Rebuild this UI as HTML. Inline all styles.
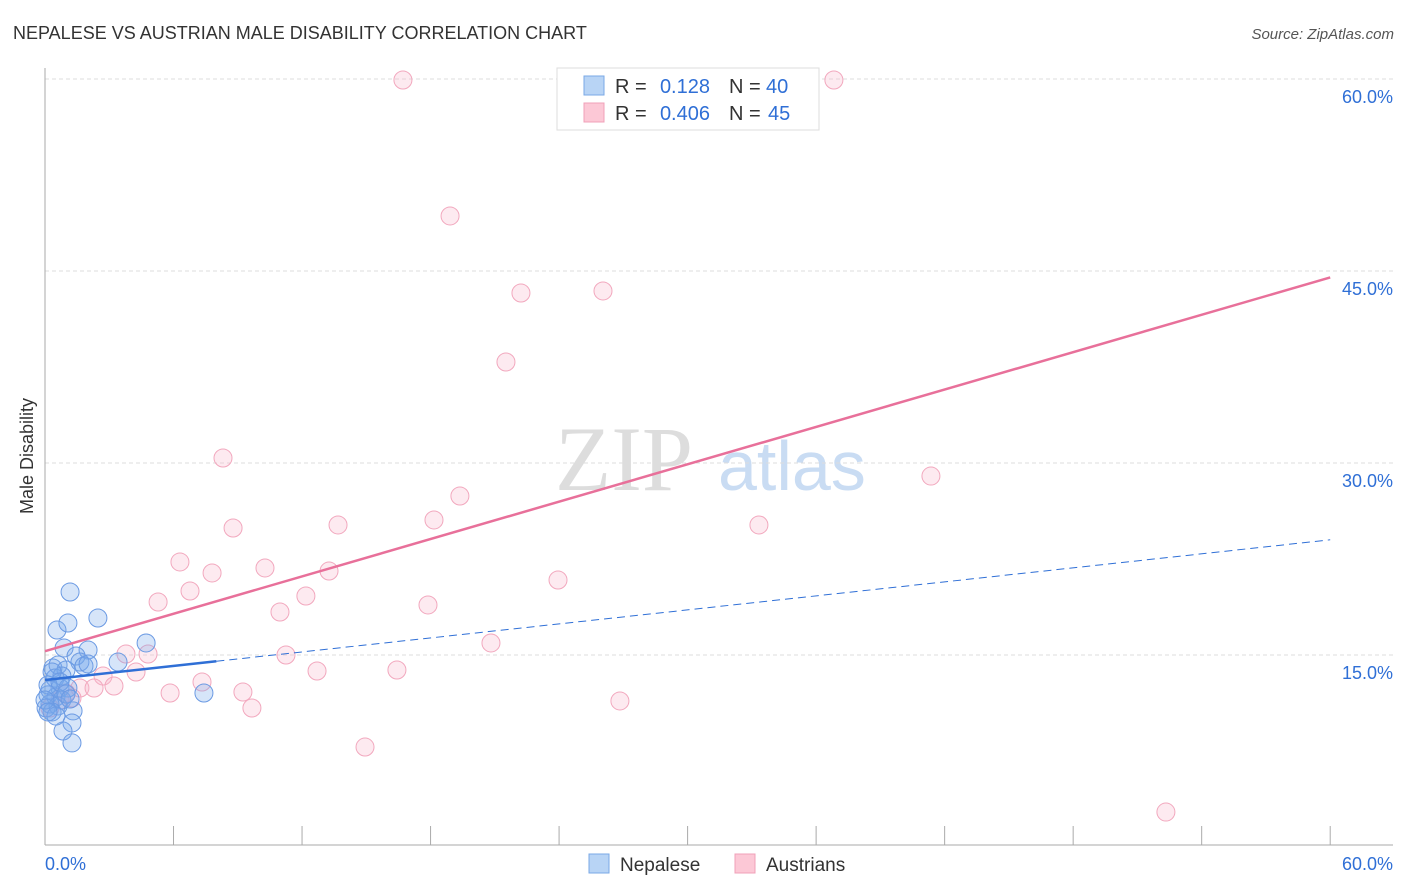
<!DOCTYPE html>
<html><head><meta charset="utf-8"><style>
body{margin:0;background:#fff;font-family:"Liberation Sans",sans-serif;}
svg{display:block}
</style></head><body>
<svg id="c" width="1406" height="892" xmlns="http://www.w3.org/2000/svg">
<text x="13" y="39" font-size="18" fill="#333">NEPALESE VS AUSTRIAN MALE DISABILITY CORRELATION CHART</text>
<text x="1394" y="39" font-size="15" fill="#555" text-anchor="end" font-style="italic">Source: ZipAtlas.com</text>
<text transform="translate(33,456) rotate(-90)" font-size="18" fill="#333" text-anchor="middle">Male Disability</text>
<text x="555" y="490" font-size="92" fill="#ddd" font-family="Liberation Serif,serif">ZIP</text>
<text x="718" y="490" font-size="70" fill="#c9dcf3">atlas</text>
<g id="grid"></g><g id="axes"></g><g id="pts"></g><g id="trend"></g>
<g>
<rect x="557" y="68" width="262" height="62" fill="#fff" stroke="#ddd"/>
<rect x="584" y="76" width="20" height="19" fill="#b8d4f5" stroke="#7aa8e6"/>
<rect x="584" y="103" width="20" height="19" fill="#fcc8d6" stroke="#f0a0b8"/>
<text x="615" y="93" font-size="20" fill="#333">R =</text>
<text x="710" y="93" font-size="20" fill="#2f6fd6" text-anchor="end">0.128</text>
<text x="729" y="93" font-size="20" fill="#333">N =</text>
<text x="766" y="93" font-size="20" fill="#2f6fd6">40</text>
<text x="615" y="120" font-size="20" fill="#333">R =</text>
<text x="710" y="120" font-size="20" fill="#2f6fd6" text-anchor="end">0.406</text>
<text x="729" y="120" font-size="20" fill="#333">N =</text>
<text x="768" y="120" font-size="20" fill="#2f6fd6">45</text>
</g>
<g>
<rect x="589" y="854" width="20" height="19" fill="#b8d4f5" stroke="#7aa8e6"/>
<text x="620" y="871" font-size="19" fill="#333">Nepalese</text>
<rect x="735" y="854" width="20" height="19" fill="#fcc8d6" stroke="#f0a0b8"/>
<text x="766" y="871" font-size="19" fill="#333">Austrians</text>
</g>
</svg>
<script>
const nepX=[1.17,0.56,1.07,2.47,4.72,2.01,0.89,1.45,1.63,3.41,1.82,0.37,0.61,0.98,0.47,0.79,0.23,0.70,1.07,0.14,0.51,0.79,0.23,0.61,0.05,0.33,1.31,1.26,0.84,1.26,7.42,0.14,0.33,0.70,0.98,0.51,0,0.14,1.17,2.01];
const nepY=[19.92,16.95,17.5,17.89,15.94,15.39,15.55,14.92,14.45,14.45,14.14,13.98,14.22,13.83,13.2,13.36,12.27,12.42,12.42,11.88,11.72,11.48,11.17,11.02,10.86,10.55,10.63,9.69,9.06,8.13,12.03,12.66,13.67,12.89,11.95,10.23,11.48,10.55,11.56,14.3];
const ausX=[16.71,36.83,18.91,22.22,26.05,21.52,8.31,41.36,19.37,8.78,13.68,18.16,33.33,6.30,7.80,10.27,13.26,23.95,6.77,5.28,12.18,10.97,17.88,20.82,3.78,4.81,11.25,4.25,12.7,16.43,2.71,7.33,1.63,2.29,3.22,5.84,9.24,9.66,26.84,14.94,52.33,1.26,0.70,0.23,0.98];
const ausY=[59.92,59.92,49.3,43.28,43.44,37.89,30.39,28.98,27.42,24.92,25.16,25.55,25.16,22.27,21.41,21.8,21.56,20.86,20.0,19.14,19.61,18.36,18.91,15.94,15.08,15.08,15.0,13.67,13.75,13.83,13.36,12.89,12.42,12.42,12.58,12.03,12.11,10.86,11.41,7.81,2.73,11.64,11.48,10.86,12.03];
const yTicks=[15,30,45,60];
const yTickLabels=["15.0%","30.0%","45.0%","60.0%"];
const nepTrend=[13.05,24.0]; const nepSolidEnd=8;
const ausTrend=[15.3,44.5];
const NS="http://www.w3.org/2000/svg";
const sx=v=>45+v*21.42, sy=v=>847-v*12.8;
function mk(tag,attrs,parent){const e=document.createElementNS(NS,tag);for(const k in attrs)e.setAttribute(k,attrs[k]);document.getElementById(parent).appendChild(e);return e;}
yTicks.forEach((t,i)=>{
 const l=mk('line',{x1:45,x2:1393,y1:sy(t),y2:sy(t),stroke:'#ddd','stroke-dasharray':'4,3'},'grid');
 
 
 const tx=mk('text',{x:1393,y:sy(t)+24,'font-size':18,fill:'#2f6fd6','text-anchor':'end'},'grid');
 tx.textContent=yTickLabels[i];
 
 
});
let a=mk('line',{x1:45,x2:45,y1:68,y2:845,stroke:'#aaa'},'axes');


a=mk('line',{x1:45,x2:1393,y1:845,y2:845,stroke:'#aaa'},'axes');


for(let i=0;i<=10;i++){const t=mk('line',{x1:sx(i*6),x2:sx(i*6),y1:826,y2:845,stroke:'#aaa'},'axes');
 
 }
let xl=mk('text',{x:45,y:870,'font-size':18,fill:'#2f6fd6'},'axes');xl.textContent='0.0%';


xl=mk('text',{x:1393,y:870,'font-size':18,fill:'#2f6fd6','text-anchor':'end'},'axes');xl.textContent='60.0%';


ausX.forEach((x,i)=>{const c=mk('circle',{cx:sx(x),cy:sy(ausY[i]),r:9,fill:'rgba(248,185,205,0.3)',stroke:'#f2a8be','stroke-width':1},'pts');
 
 });
nepX.forEach((x,i)=>{const c=mk('circle',{cx:sx(x),cy:sy(nepY[i]),r:9,fill:'rgba(120,170,235,0.3)',stroke:'#6b9ae3','stroke-width':1},'pts');
 
 });
const ny=x=>nepTrend[0]+(nepTrend[1]-nepTrend[0])*x/60;
let t=mk('line',{x1:sx(0),y1:sy(ausTrend[0]),x2:sx(60),y2:sy(ausTrend[1]),stroke:'#e8709a','stroke-width':2.5},'trend');


t=mk('line',{x1:sx(0),y1:sy(ny(0)),x2:sx(nepSolidEnd),y2:sy(ny(nepSolidEnd)),stroke:'#2f6fd6','stroke-width':2.5},'trend');


t=mk('line',{x1:sx(nepSolidEnd),y1:sy(ny(nepSolidEnd)),x2:sx(60),y2:sy(ny(60)),stroke:'#2f6fd6','stroke-width':1,'stroke-dasharray':'8,5'},'trend');


</script>
</body></html>
